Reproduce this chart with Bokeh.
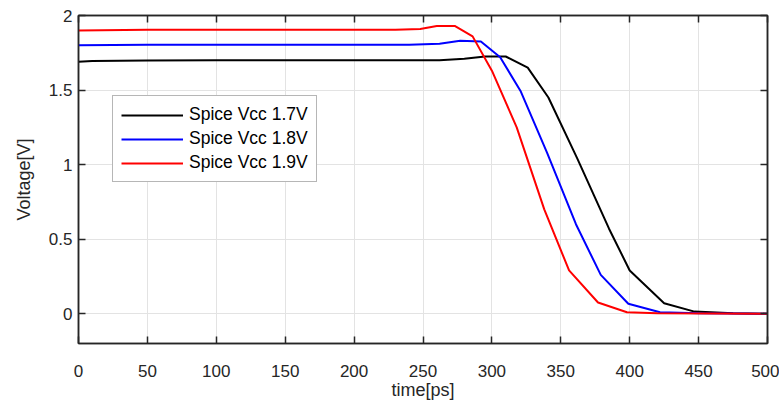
from bokeh.plotting import figure
from bokeh.embed import file_html
from bokeh.resources import INLINE
from bokeh.models import (Range1d, FixedTicker, LinearAxis, Legend, LegendItem,
                          CustomJSTickFormatter)

# ---- data ----
t_17 = [0, 10, 50, 100, 150, 200, 250, 262, 280, 295, 310, 326, 341, 362, 385, 400, 425, 447, 475, 500]
v_17 = [1.69, 1.695, 1.698, 1.70, 1.70, 1.70, 1.70, 1.70, 1.71, 1.725, 1.725, 1.65, 1.45, 1.04, 0.57, 0.29, 0.07, 0.014, 0.003, 0.0]

t_18 = [0, 50, 100, 150, 200, 240, 262, 277, 292, 306, 321, 340, 361, 379, 399, 422, 450, 500]
v_18 = [1.80, 1.803, 1.804, 1.804, 1.804, 1.803, 1.81, 1.83, 1.825, 1.72, 1.49, 1.08, 0.60, 0.26, 0.067, 0.01, 0.003, 0.0]

t_19 = [0, 50, 100, 150, 200, 230, 248, 260, 273, 286, 300, 318, 338, 356, 377, 398, 420, 500]
v_19 = [1.90, 1.904, 1.905, 1.905, 1.905, 1.905, 1.91, 1.93, 1.93, 1.86, 1.63, 1.25, 0.70, 0.29, 0.075, 0.01, 0.003, 0.0]

series_labels = ["Spice Vcc 1.7V", "Spice Vcc 1.8V", "Spice Vcc 1.9V"]
series_colors = ["#000000", "#0000ff", "#ff0000"]
x_ticks = [0, 50, 100, 150, 200, 250, 300, 350, 400, 450, 500]
y_ticks = [0, 0.5, 1, 1.5, 2]

FONT = "Liberation Sans"
TXT = "#262626"

p = figure(width=779, height=406, output_backend="svg", toolbar_location=None,
           x_range=Range1d(0, 500), y_range=Range1d(-0.2, 2.0),
           min_border_left=78, min_border_right=12, min_border_top=15, min_border_bottom=63)

p.background_fill_color = "white"
p.border_fill_color = "white"
p.outline_line_color = TXT
p.outline_line_width = 1.5

fmt = CustomJSTickFormatter(code="return String(tick);")
blank = CustomJSTickFormatter(code="return '';")

for ax in p.xaxis + p.yaxis:
    ax.axis_line_color = TXT
    ax.axis_line_width = 1.5
    ax.major_tick_line_color = TXT
    ax.major_tick_line_width = 1.5
    ax.major_tick_in = 7
    ax.major_tick_out = 0
    ax.minor_tick_line_color = None
    ax.major_label_text_font = FONT
    ax.major_label_text_font_size = "17px"
    ax.major_label_text_color = TXT
    ax.axis_label_text_font = FONT
    ax.axis_label_text_font_size = "18px"
    ax.axis_label_text_font_style = "normal"
    ax.axis_label_text_color = TXT
    ax.formatter = fmt

p.xaxis.ticker = FixedTicker(ticks=x_ticks)
p.yaxis.ticker = FixedTicker(ticks=y_ticks)
p.xaxis.axis_label = "time[ps]"
p.yaxis.axis_label = "Voltage[V]"
p.xaxis.major_label_standoff = 21
p.xaxis.axis_label_standoff = 0
p.yaxis.major_label_standoff = 6
p.yaxis.axis_label_standoff = 12

# box ticks on top and right
for loc, tk in (("above", x_ticks), ("right", y_ticks)):
    a = LinearAxis(ticker=FixedTicker(ticks=tk), formatter=blank,
                   major_label_standoff=0, axis_line_color=TXT, axis_line_width=1.5,
                   major_tick_line_color=TXT, major_tick_line_width=1.5,
                   major_tick_in=7, major_tick_out=0, minor_tick_line_color=None)
    p.add_layout(a, loc)

p.xgrid.ticker = FixedTicker(ticks=x_ticks)
p.ygrid.ticker = FixedTicker(ticks=y_ticks)
p.grid.grid_line_color = "#e3e3e3"
p.grid.grid_line_width = 1

r1 = p.line(t_17, v_17, line_color=series_colors[0], line_width=2)
r2 = p.line(t_18, v_18, line_color=series_colors[1], line_width=2)
r3 = p.line(t_19, v_19, line_color=series_colors[2], line_width=2)

legend = Legend(items=[LegendItem(label=series_labels[0], renderers=[r1]),
                       LegendItem(label=series_labels[1], renderers=[r2]),
                       LegendItem(label=series_labels[2], renderers=[r3])],
                location=(34, 161))
legend.label_text_font = FONT
legend.label_text_font_size = "17.5px"
legend.label_text_color = "#000000"
legend.glyph_width = 62
legend.glyph_height = 20
legend.label_height = 20
legend.label_standoff = 6
legend.spacing = 3
legend.padding = 8
legend.margin = 0
legend.border_line_color = "#6e6e6e"
legend.border_line_width = 1
legend.background_fill_color = "white"
legend.background_fill_alpha = 1
p.add_layout(legend, "center")

open("out.html", "w").write(file_html(p, INLINE))
